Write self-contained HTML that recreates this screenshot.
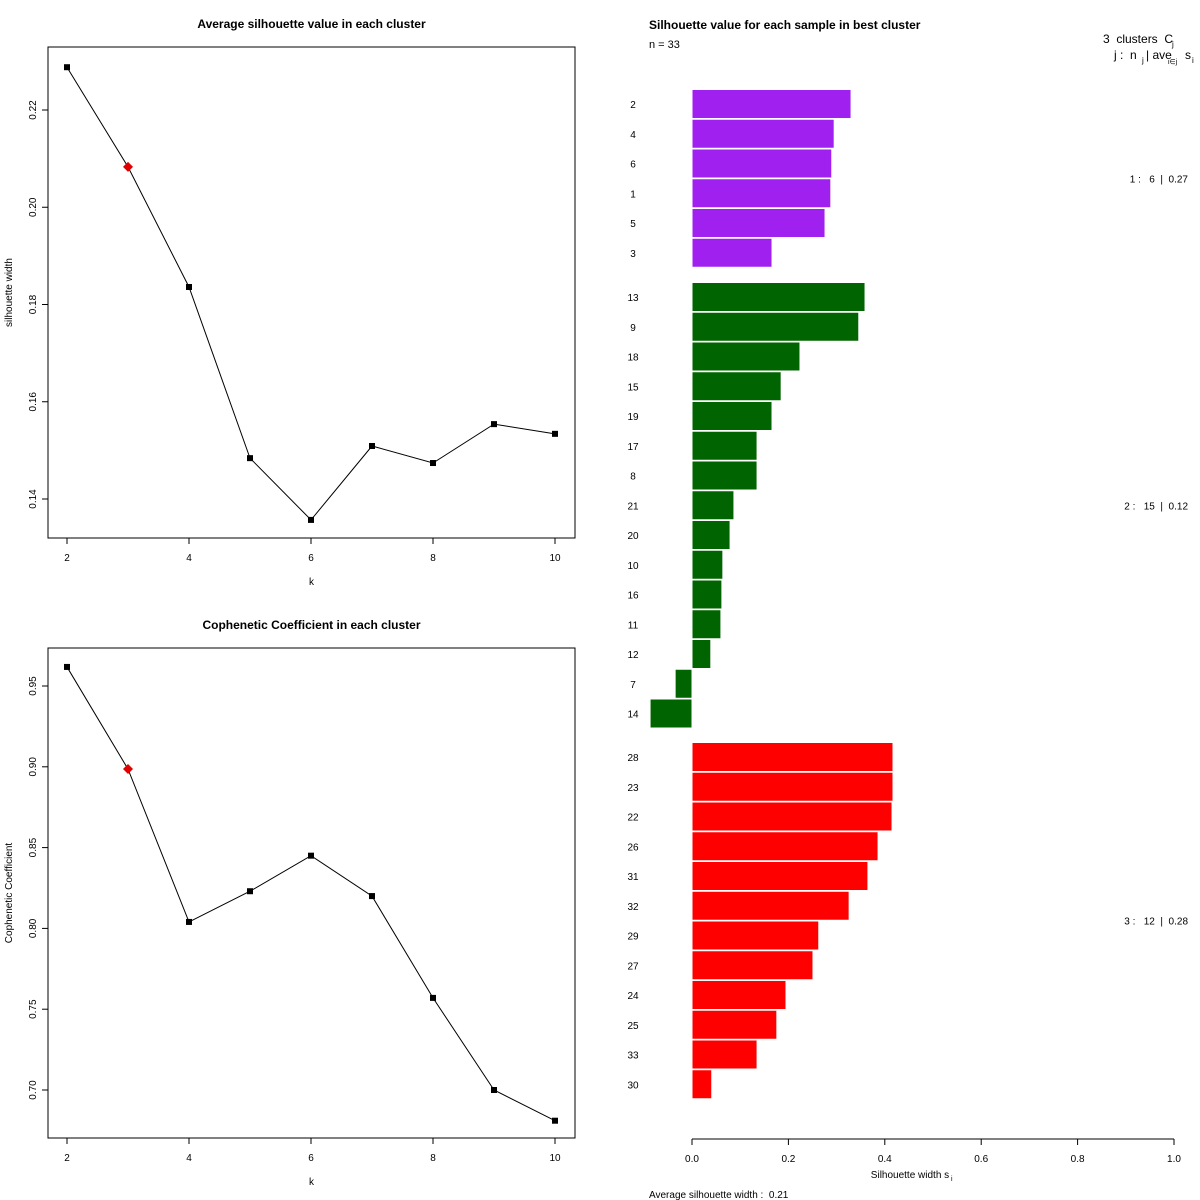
<!DOCTYPE html>
<html><head><meta charset="utf-8"><style>
body{margin:0;background:#fff;}
svg{display:block;font-family:"Liberation Sans",Arial,sans-serif;}
text{white-space:pre;}
</style></head><body>
<svg id="c" width="1200" height="1200" xmlns="http://www.w3.org/2000/svg"></svg>
<script>
const ks=[2,3,4,5,6,7,8,9,10];
const silAvg=[0.2288,0.2083,0.1836,0.1484,0.1357,0.1509,0.1474,0.1554,0.1534];
const coph=[0.9618,0.8986,0.804,0.823,0.845,0.820,0.757,0.700,0.681];
const bestK=3;
const silTicks=[0.14,0.16,0.18,0.20,0.22];
const cophTicks=[0.70,0.75,0.80,0.85,0.90,0.95];
const kTicks=[2,4,6,8,10];
const c1Labels=["2","4","6","1","5","3"];
const c1Vals=[0.33,0.295,0.29,0.288,0.276,0.166];
const c2Labels=["13","9","18","15","19","17","8","21","20","10","16","11","12","7","14"];
const c2Vals=[0.359,0.346,0.224,0.185,0.166,0.135,0.135,0.087,0.079,0.064,0.062,0.06,0.039,-0.035,-0.087];
const c3Labels=["28","23","22","26","31","32","29","27","24","25","33","30"];
const c3Vals=[0.417,0.417,0.415,0.386,0.365,0.326,0.263,0.251,0.195,0.176,0.135,0.041];
const clusterSummary=["1 :   6  |  0.27","2 :   15  |  0.12","3 :   12  |  0.28"];
const silTickVals=[0,0.2,0.4,0.6,0.8,1.0];

const svg=document.getElementById('c');
const NS='http://www.w3.org/2000/svg';
function el(tag,attrs,parent){const e=document.createElementNS(NS,tag);for(const k in attrs)e.setAttribute(k,attrs[k]);(parent||svg).appendChild(e);return e;}
function txt(x,y,s,size,anchor,parent,extra){const t=el('text',Object.assign({x:x,y:y,'font-size':size,'text-anchor':anchor||'middle',fill:'#000'},extra||{}),parent);t.textContent=s;return t;}

function linePlot(name,vals,ticks,y0v,y0p,perUnit,box,title,ylab){
  const g=el('g',{});
  
  
  const xs=k=>67+(k-2)*61;
  const ys=v=>y0p-(v-y0v)*perUnit;
  const r=el('rect',{x:box[0],y:box[1],width:box[2]-box[0],height:box[3]-box[1],fill:'none',stroke:'#000','stroke-width':1},g);
  
  const tt=txt((box[0]+box[2])/2,box[1]-19,title,12,'middle',g,{'font-weight':'bold'});
  
  kTicks.forEach(k=>{el('line',{x1:xs(k),x2:xs(k),y1:box[3],y2:box[3]+6,stroke:'#000'},g);
    const t=txt(xs(k),box[3]+23,String(k),10,'middle',g);});
  ticks.forEach(v=>{const y=ys(v);el('line',{x1:box[0],x2:box[0]-6,y1:y,y2:y,stroke:'#000'},g);
    const t=txt(36,y,v.toFixed(2),10,'middle',g,{transform:`rotate(-90 36 ${y})`});});
  const xl=txt((box[0]+box[2])/2,box[3]+47,'k',10,'middle',g);
  const cy=(box[1]+box[3])/2;
  const yl=txt(12,cy,ylab,10,'middle',g,{transform:`rotate(-90 12 ${cy})`});
  const pts=ks.map((k,i)=>xs(k)+','+ys(vals[i])).join(' ');
  const pl=el('polyline',{points:pts,fill:'none',stroke:'#000','stroke-width':1},g);
  
  ks.forEach((k,i)=>{
    const x=xs(k),y=ys(vals[i]);
    if(k===bestK){const p=el('polygon',{points:`${x},${y-5} ${x+5},${y} ${x},${y+5} ${x-5},${y}`,fill:'#e00000'},g);
      }
    else{const p=el('rect',{x:x-3,y:y-3,width:6,height:6,fill:'#000'},g);
      }
  });
}
linePlot('silhouette-line-plot',silAvg,silTicks,0.14,499,4862.5,[48,47,575,538],'Average silhouette value in each cluster','silhouette width');
linePlot('cophenetic-line-plot',coph,cophTicks,0.70,1090,1616,[48,648,575,1138],'Cophenetic Coefficient in each cluster','Cophenetic Coefficient');

const sg=el('g',{});


const sx=v=>692+v*482;
const rowH=29.75;
const t2=txt(649,29,'Silhouette value for each sample in best cluster',12,'start',sg,{'font-weight':'bold'});

const nt=txt(649,48,'n = 33',11,'start',sg);
const h1=txt(1103,43,'3  clusters  C',12,'start',sg);
txt(1172,47,'j',8,'start',sg);
const h2=txt(1114,59,'j :  n',12,'start',sg);
txt(1142,63,'j',8,'start',sg);txt(1146,59,'| ave',12,'start',sg);txt(1168,64,'i∈j',7,'start',sg);txt(1185,59,'s',12,'start',sg);txt(1192,63,'i',8,'start',sg);
const clusters=[[c1Labels,c1Vals,'#a020f0',104],[c2Labels,c2Vals,'#006400',297],[c3Labels,c3Vals,'#ff0000',757]];
clusters.forEach((cl,ci)=>{
  const [labs,vals,col,y0]=cl;
  labs.forEach((lab,i)=>{
    const yc=y0+i*rowH;
    const v=vals[i];
    const x0=Math.min(sx(0),sx(v)),w=Math.abs(sx(v)-sx(0));
    const b=el('rect',{x:x0,y:yc-14.5,width:w,height:29,fill:col,stroke:'#fff','stroke-width':1},sg);
    
    
    const lt=txt(633,yc+4,lab,10,'middle',sg);
    
    
  });
  const mid=y0+(labs.length-1)*rowH/2;
  const st=txt(1188,mid+4,clusterSummary[ci],10,'end',sg);
  
  
});
el('line',{x1:sx(0),x2:sx(1),y1:1139,y2:1139,stroke:'#000'},sg);
silTickVals.forEach(v=>{el('line',{x1:sx(v),x2:sx(v),y1:1139,y2:1145,stroke:'#000'},sg);
  const t=txt(sx(v),1162,v.toFixed(1),10,'middle',sg);});
const xt=txt(910,1178,'Silhouette width s',10,'middle',sg);
txt(951,1181,'i',7,'start',sg);
const av=txt(649,1198,'Average silhouette width :  0.21',10,'start',sg);
</script>
</body></html>
